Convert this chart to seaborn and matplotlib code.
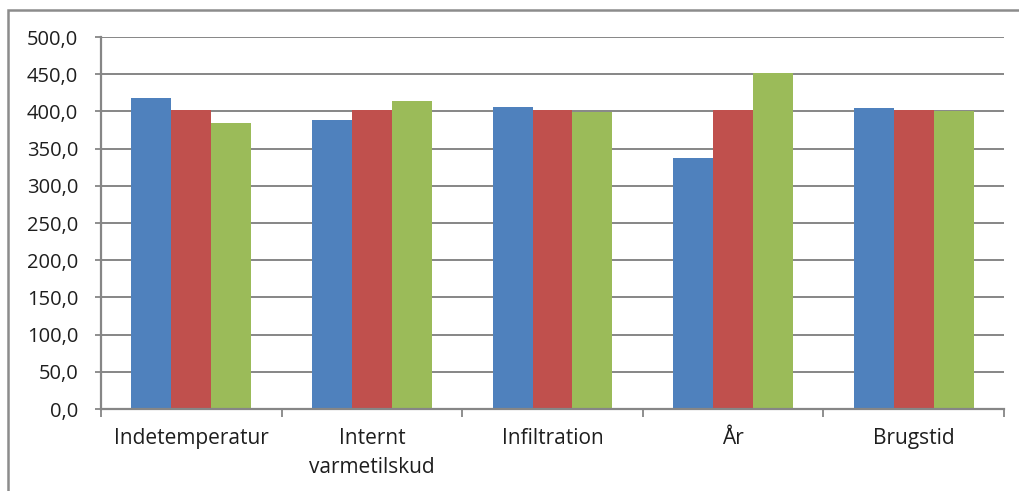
import matplotlib
matplotlib.use("Agg")
import matplotlib.pyplot as plt
from matplotlib.ticker import FuncFormatter, FixedLocator
from matplotlib.patches import Rectangle
import seaborn as sns
import pandas as pd

# Parameter groups on the x axis
categories = ["Indetemperatur", "Internt\nvarmetilskud", "Infiltration", "År", "Brugstid"]
# Three variants per parameter
series_names = ["Lav", "Basis", "Høj"]
lav = [417.5, 388.5, 405.5, 337.0, 404.0]
basis = [402.3, 402.3, 402.3, 402.3, 402.3]
hoej = [383.8, 413.4, 398.7, 451.0, 400.5]
colors = ["#4F81BD", "#C0504D", "#9BBB59"]
y_ticks = [0, 50, 100, 150, 200, 250, 300, 350, 400, 450, 500]

rows = []
for name, vals in zip(series_names, [lav, basis, hoej]):
    for cat, v in zip(categories, vals):
        rows.append({"Parameter": cat, "Variant": name, "Værdi": v})
df = pd.DataFrame(rows)

sns.set_theme(style="white")
plt.rcParams["font.family"] = ["Open Sans", "DejaVu Sans"]

W, H = 1019, 491
fig = plt.figure(figsize=(W / 100, H / 100), dpi=100)
ax = fig.add_axes([101 / W, (H - 409) / H, (1004 - 101) / W, (409 - 37) / H])

sns.barplot(data=df, x="Parameter", y="Værdi", hue="Variant", order=categories,
            hue_order=series_names, palette=colors, width=0.664, gap=0,
            linewidth=0, saturation=1, ax=ax, legend=False, errorbar=None)

grid_c = "#868686"
ax.set_xlim(-0.5, len(categories) - 0.5)
ax.set_ylim(0, 500)
ax.yaxis.set_major_locator(FixedLocator(y_ticks))
ax.yaxis.set_major_formatter(FuncFormatter(lambda v, p: f"{v:.1f}".replace(".", ",")))
ax.grid(axis="y", color=grid_c, linewidth=1.4)
ax.set_axisbelow(True)

for s in ["top", "right"]:
    ax.spines[s].set_visible(False)
for s in ["left", "bottom"]:
    ax.spines[s].set_color(grid_c)
    ax.spines[s].set_linewidth(1.6)

ax.set_xlabel("")
ax.set_ylabel("")
ax.tick_params(axis="y", which="major", direction="out", length=4, width=1.3,
               color=grid_c, labelsize=14.5, labelcolor="#1e1e1e", pad=12.5, left=True)
ax.tick_params(axis="x", which="major", length=0, labelsize=15,
               labelcolor="#1e1e1e", pad=14)
ax.set_xticks(range(len(categories)))
ax.set_xticklabels(categories, linespacing=1.5, va="top")
ax.set_xticks([i - 0.5 for i in range(len(categories) + 1)], minor=True)
ax.tick_params(axis="x", which="minor", direction="out", length=6, width=1.3,
               color=grid_c, bottom=True)

# Chart area frame
fig.patches.append(Rectangle((8 / W, -0.1), 1.2, (H - 10) / H + 0.1,
                             transform=fig.transFigure, fill=False,
                             edgecolor="#8c8c8c", linewidth=1.8))

fig.savefig("out.png", dpi=100)
